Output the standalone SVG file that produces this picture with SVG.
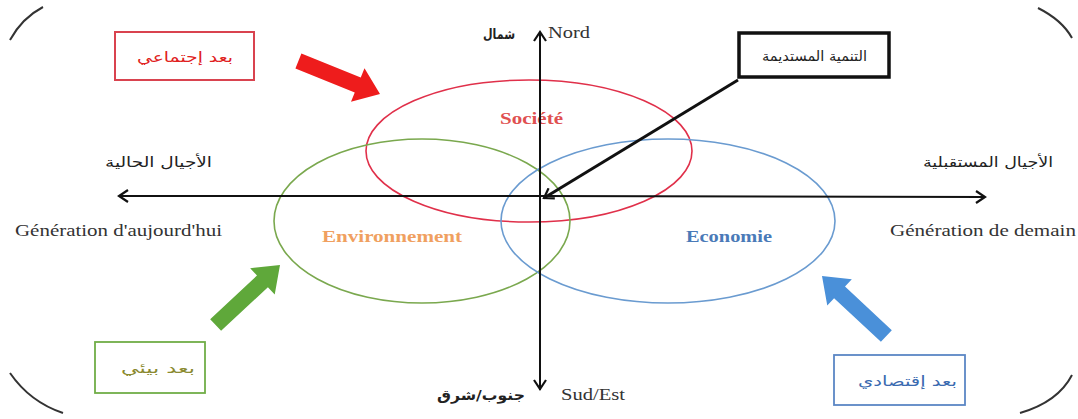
<svg xmlns="http://www.w3.org/2000/svg" width="1078" height="419" viewBox="0 0 1078 419">
<style>
.lat{font-family:"Liberation Serif",serif;fill:#333;font-size:17px}
.ar{font-family:"DejaVu Sans","Noto Sans",sans-serif;font-size:14px}
.lbl{font-family:"Liberation Serif",serif;font-size:17px;font-weight:bold}
.ax{stroke:#111;stroke-width:2;fill:none}
.frame{stroke:#333;stroke-width:2;fill:none}
.ell{fill:none;stroke-width:1.6}
</style>
<defs>
<marker id="chev" markerWidth="12" markerHeight="14" refX="10" refY="7" orient="auto" markerUnits="userSpaceOnUse">
<polyline points="1,1 10,7 1,13" fill="none" stroke="#111" stroke-width="2.2"/>
</marker>
<path id="blk" d="M-88,-8 L-24,-8 L-24,-18 L0,0 L-24,18 L-24,8 L-88,8 Z"/>
</defs>

<g id="frame">
<path class="frame" d="M10,40 Q22,18 43,7"/>
<path class="frame" d="M1038,8 Q1062,20 1072,38"/>
<path class="frame" d="M10,373 Q30,402 63,413"/>
<path class="frame" d="M1020,413 Q1058,402 1072,375"/>
</g>

<g id="ellipses">
<g id="societe"><ellipse class="ell" cx="529" cy="151" rx="163" ry="71" stroke="#e0304a"/>
<text class="lbl" x="500" y="124" textLength="63" lengthAdjust="spacingAndGlyphs" fill="#e05050">Société</text></g>
<g id="environnement"><ellipse class="ell" cx="422" cy="221" rx="148" ry="82" stroke="#7aa84e"/>
<text class="lbl" x="322" y="242" textLength="140" lengthAdjust="spacingAndGlyphs" fill="#f0a060">Environnement</text></g>
<g id="economie"><ellipse class="ell" cx="668" cy="221" rx="167" ry="82" stroke="#6a9bd0"/>
<text class="lbl" x="686" y="242" textLength="86" lengthAdjust="spacingAndGlyphs" fill="#4a7ab8">Economie</text></g>
</g>

<g id="connectors">
<line class="ax" x1="540" y1="390" x2="540" y2="32" marker-end="url(#chev)"/>
<line class="ax" x1="540" y1="200" x2="540" y2="389" marker-end="url(#chev)"/>
<line class="ax" x1="540" y1="196" x2="119" y2="196" marker-end="url(#chev)"/>
<line class="ax" x1="540" y1="196" x2="985" y2="197" marker-end="url(#chev)"/>
<line x1="738" y1="80" x2="544" y2="198" stroke="#111" stroke-width="3" marker-end="url(#chev)"/>
<use href="#blk" fill="#ee1c1c" transform="translate(380,94) rotate(22)"/>
<use href="#blk" fill="#5fa83a" transform="translate(280,265) rotate(-43)"/>
<use href="#blk" fill="#4a90d9" transform="translate(822,276) rotate(-137)"/>
</g>

<g id="axis-labels">
<text class="ar" x="483" y="39" textLength="32" lengthAdjust="spacingAndGlyphs" fill="#222" font-weight="bold" font-size="16">شمال</text>
<text class="lat" x="548" y="38" textLength="42" lengthAdjust="spacingAndGlyphs">Nord</text>
<text class="ar" x="437" y="400" textLength="88" lengthAdjust="spacingAndGlyphs" fill="#222" font-weight="bold" font-size="15">جنوب/شرق</text>
<text class="lat" x="561" y="400" textLength="64" lengthAdjust="spacingAndGlyphs">Sud/Est</text>
<text class="ar" x="105" y="167" textLength="107" lengthAdjust="spacingAndGlyphs" fill="#222" font-size="15">الأجيال الحالية</text>
<text class="lat" x="15" y="236" textLength="207" lengthAdjust="spacingAndGlyphs">Génération d'aujourd'hui</text>
<text class="ar" x="923" y="167" textLength="130" lengthAdjust="spacingAndGlyphs" fill="#222" font-size="15">الأجيال المستقبلية</text>
<text class="lat" x="890" y="236" textLength="186" lengthAdjust="spacingAndGlyphs">Génération de demain</text>
</g>

<g id="box-durable">
<rect x="739" y="33" width="150" height="44" fill="#fff" stroke="#111" stroke-width="3.5"/>
<text class="ar" x="762" y="61" textLength="105" lengthAdjust="spacingAndGlyphs" fill="#222" font-size="15">التنمية المستديمة</text>
</g>
<g id="box-social">
<rect x="115" y="32" width="139" height="48" fill="#fff" stroke="#d9434f" stroke-width="2"/>
<text class="ar" x="137" y="62" textLength="96" lengthAdjust="spacingAndGlyphs" fill="#e02020" font-size="15">بعد إجتماعي</text>
</g>
<g id="box-env">
<rect x="95" y="342" width="110" height="51" fill="#fff" stroke="#70ad47" stroke-width="1.8"/>
<text class="ar" x="121" y="373" textLength="74" lengthAdjust="spacingAndGlyphs" fill="#8a8a30">بعد بيئي</text>
</g>
<g id="box-eco">
<rect x="834" y="355" width="131" height="50" fill="#fff" stroke="#5b87c5" stroke-width="1.8"/>
<text class="ar" x="858" y="386" textLength="99" lengthAdjust="spacingAndGlyphs" fill="#3a6ab0">بعد إقتصادي</text>
</g>
</svg>
